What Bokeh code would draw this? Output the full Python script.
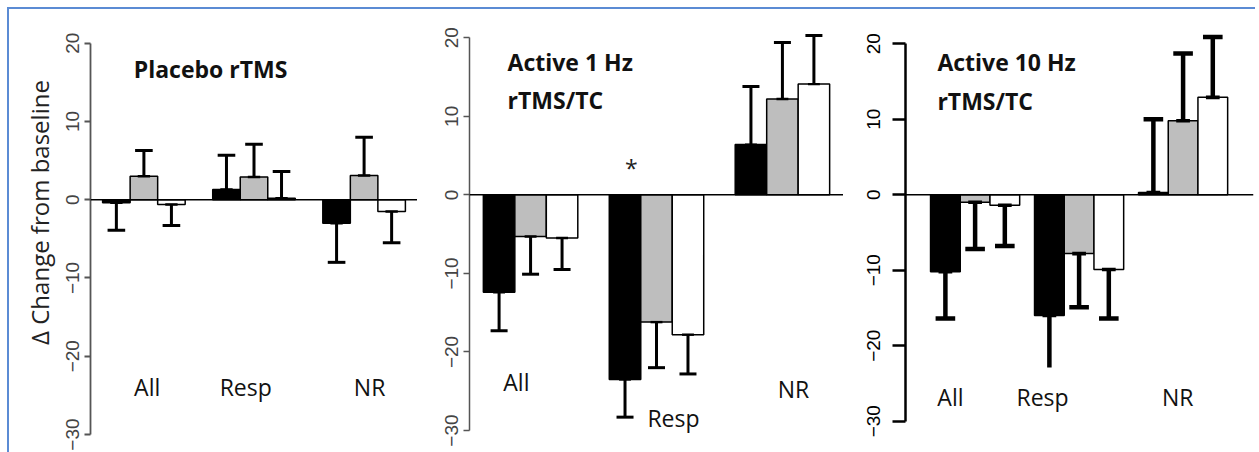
import math
from bokeh.plotting import figure
from bokeh.models import FixedTicker, Range1d, Span
from bokeh.layouts import row
from bokeh.embed import file_html
from bokeh.resources import INLINE
from bokeh.core.properties import value

# ---------------- data ----------------
groups = ["All", "Resp", "NR"]
bar_colors = ["black", "#bebebe", "white"]
y_ticks = [-30, -20, -10, 0, 10, 20]

# Panel 1: Placebo rTMS
placebo_black = [-0.4, 1.3, -3.0]
placebo_black_se = [3.5, 4.4, 5.0]
placebo_gray = [3.0, 2.9, 3.1]
placebo_gray_se = [3.3, 4.2, 4.9]
placebo_white = [-0.6, 0.2, -1.5]
placebo_white_se = [2.7, 3.4, 4.0]

# Panel 2: Active 1 Hz rTMS/TC
hz1_black = [-12.4, -23.5, 6.4]
hz1_black_se = [4.9, 4.8, 7.4]
hz1_gray = [-5.3, -16.2, 12.2]
hz1_gray_se = [4.8, 5.8, 7.2]
hz1_white = [-5.5, -17.8, 14.1]
hz1_white_se = [4.0, 5.0, 6.2]

# Panel 3: Active 10 Hz rTMS/TC
hz10_black = [-10.2, -16.0, 0.3]
hz10_black_se = [6.2, 6.9, 9.7]
hz10_gray = [-1.0, -7.8, 9.8]
hz10_gray_se = [6.2, 7.1, 8.9]
hz10_white = [-1.4, -9.9, 12.9]
hz10_white_se = [5.4, 6.5, 8.0]

titles = [["Placebo rTMS"], ["Active 1 Hz", "rTMS/TC"], ["Active 10 Hz", "rTMS/TC"]]
y_label = "Δ Change from baseline"

FONT = value("Open Sans")
H = 443


def make_panel(series, ses, cfg):
    p = figure(width=cfg["width"], height=H,
               x_range=Range1d(*cfg["xr"]), y_range=Range1d(*cfg["yr"]),
               output_backend="svg", toolbar_location=None,
               x_axis_type=None, min_border_left=cfg["mbl"], min_border_right=cfg["mbr"],
               min_border_top=0, min_border_bottom=0)
    p.grid.visible = False
    p.outline_line_color = None
    p.background_fill_color = "white"
    p.border_fill_color = "white"

    ax = p.yaxis[0]
    ax.ticker = FixedTicker(ticks=y_ticks)
    ax.bounds = (-30, 20)
    ax.major_label_orientation = "vertical"
    ax.minor_tick_line_color = None
    ax.major_tick_in = 0
    ax.major_tick_out = cfg["tick"]
    ax.axis_line_color = cfg["axcol"]
    ax.axis_line_width = cfg["axw"]
    ax.major_tick_line_color = cfg["axcol"]
    ax.major_tick_line_width = cfg["axw"]
    ax.major_label_text_font = "Liberation Sans"
    ax.major_label_text_font_size = "19px"
    ax.major_label_text_color = cfg["labcol"]
    ax.major_label_standoff = cfg["standoff"]

    p.add_layout(Span(location=0, dimension="width", line_color="black", line_width=1.5))

    start, step = cfg["start"], cfg["step"]
    cw = cfg["cap"]
    no_cap = cfg.get("no_cap", [])
    for k, (vals, se) in enumerate(zip(series, ses)):
        xs = [start + g * step + k + 0.5 for g in range(len(groups))]
        p.vbar(x=xs, width=1, top=vals, bottom=0, fill_color=bar_colors[k],
               line_color="black", line_width=1.5)
        tips = [v + e if v >= 0 else v - e for v, e in zip(vals, se)]
        p.segment(x0=xs, y0=vals, x1=xs, y1=tips, line_color="black", line_width=cfg["ew"])
        keep = [g for g in range(len(groups)) if (k, g) not in no_cap]
        p.segment(x0=[xs[g] - cw for g in keep], y0=[tips[g] for g in keep],
                  x1=[xs[g] + cw for g in keep], y1=[tips[g] for g in keep],
                  line_color="black", line_width=cfg["ew"])
        p.segment(x0=[x - cw * 0.7 for x in xs], y0=vals, x1=[x + cw * 0.7 for x in xs], y1=vals,
                  line_color="black", line_width=cfg["ew"] * 0.8)

    # titles
    tx, ty = cfg["title_pos"]
    for i, line in enumerate(cfg["title"]):
        p.text(x=[tx], y=[ty - i * cfg["title_gap"]], text=[line], text_font=FONT,
               text_font_size="23px", text_font_style="bold", text_color="#111111",
               text_align="left", text_baseline="middle")
    # category labels
    p.text(x=cfg["cat_x"], y=cfg["cat_y"], text=groups, text_font=FONT,
           text_font_size="23px", text_color="#111111",
           text_align="center", text_baseline="middle")
    return p


# narrow strip carrying the shared y-axis title
p0 = figure(width=48, height=H, x_range=Range1d(0, 48), y_range=Range1d(0, H),
            output_backend="svg", toolbar_location=None, x_axis_type=None, y_axis_type=None,
            min_border_left=0, min_border_right=0, min_border_top=0, min_border_bottom=0)
p0.grid.visible = False
p0.outline_line_color = None
p0.text(x=[30], y=[240], text=[y_label], angle=math.pi / 2, text_font=FONT,
        text_font_size="24px", text_color="#222222", text_align="center",
        text_baseline="middle")

cfg1 = dict(width=360, mbl=33, mbr=0, xr=(0.56, 12.44), yr=(-32.30, 24.31), start=1, step=4,
            tick=6, axcol="#555555", axw=1.8, labcol="#444444", standoff=5, cap=0.32, ew=3,
            title=titles[0], title_pos=(2.13, 16.75), title_gap=0,
            cat_x=[2.62, 6.2, 10.7], cat_y=[-23.9, -23.9, -23.9])
cfg2 = dict(width=426, mbl=52, mbr=0, xr=(0.56, 12.44), yr=(-32.80, 23.60), start=1, step=4,
            tick=6, axcol="#555555", axw=1.5, labcol="#444444", standoff=5, cap=0.27, ew=3,
            title=titles[1], title_pos=(1.77, 16.9), title_gap=4.84,
            cat_x=[2.05, 7.04, 10.85], cat_y=[-23.8, -28.4, -24.7])
cfg3 = dict(width=412, mbl=62, mbr=2, xr=(-0.343, 11.37), yr=(-34.15, 24.54), start=0.5, step=3.5,
            tick=13, axcol="black", axw=2.5, labcol="black", standoff=12, cap=0.33, ew=4.5,
            title=titles[2], title_pos=(0.73, 17.6), title_gap=5.17,
            cat_x=[1.17, 4.27, 8.82], cat_y=[-26.85, -26.85, -26.85], no_cap=[(0, 1)])

p1 = make_panel([placebo_black, placebo_gray, placebo_white],
                [placebo_black_se, placebo_gray_se, placebo_white_se], cfg1)
p2 = make_panel([hz1_black, hz1_gray, hz1_white],
                [hz1_black_se, hz1_gray_se, hz1_white_se], cfg2)
p3 = make_panel([hz10_black, hz10_gray, hz10_white],
                [hz10_black_se, hz10_gray_se, hz10_white_se], cfg3)

# asterisk over Resp in panel 2
p2.text(x=[5.7], y=[3.4], text=["*"], text_font=FONT, text_font_size="23px",
        text_color="#222222", text_align="center", text_baseline="middle")

layout = row(p0, p1, p2, p3, margin=(7, 0, 0, 7),
             styles={"border-top": "2px solid #5b8bd4",
                     "border-left": "2px solid #5b8bd4"})

open("out.html", "w").write(file_html(layout, INLINE))
